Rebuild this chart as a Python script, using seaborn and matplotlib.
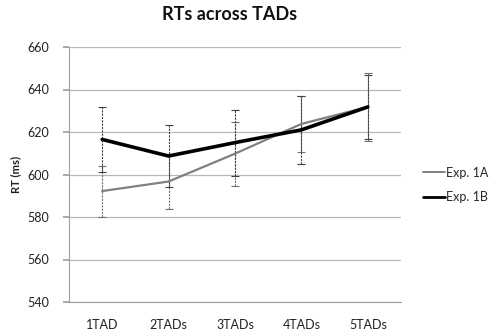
import matplotlib
matplotlib.use("Agg")
import matplotlib.pyplot as plt
import seaborn as sns
import pandas as pd
import numpy as np
from matplotlib.lines import Line2D

categories = ["1TAD", "2TADs", "3TADs", "4TADs", "5TADs"]
exp_1a = [592.2, 596.7, 609.8, 623.8, 631.8]
exp_1a_err = [12.0, 13.0, 15.0, 13.0, 16.0]
exp_1b = [616.5, 608.7, 615.0, 621.0, 631.8]
exp_1b_err = [15.5, 14.5, 15.5, 16.0, 15.0]
series_names = ["Exp. 1A", "Exp. 1B"]

sns.set_theme(style="white")
plt.rcParams["font.family"] = ["Lato", "DejaVu Sans"]

df = pd.DataFrame({
    "cond": categories * 2,
    "rt": exp_1a + exp_1b,
    "exp": [series_names[0]] * 5 + [series_names[1]] * 5,
})

fig = plt.figure(figsize=(5.03, 3.34), dpi=100)
ax = fig.add_axes([69 / 503, 1 - 302 / 334, (401 - 69) / 503, (302 - 47) / 334])

palette = {series_names[0]: "#808080", series_names[1]: "#000000"}
sns.lineplot(data=df, x="cond", y="rt", hue="exp", palette=palette, sort=False,
             ax=ax, legend=False, linewidth=1.6, zorder=3)
for line, lw in zip(ax.get_lines(), [1.6, 2.6]):
    line.set_linewidth(lw)

xs = np.arange(len(categories))
for vals, errs, col in [(exp_1a, exp_1a_err, "#707070"), (exp_1b, exp_1b_err, "#404040")]:
    eb = ax.errorbar(xs, vals, yerr=errs, fmt="none", ecolor=col, elinewidth=0.8,
                     capsize=3, capthick=0.8, zorder=2)
    for lc in eb[2]:
        lc.set_linestyle((0, (2, 1)))

ax.set_xlim(-0.5, 4.5)
ax.set_ylim(540, 660)
ax.set_yticks(np.arange(540, 661, 20))
ax.yaxis.grid(True, color="#b8b8b8", linewidth=0.9)
ax.xaxis.grid(False)
for s in ["top", "right"]:
    ax.spines[s].set_visible(False)
ax.spines["left"].set_color("#a0a0a0")
ax.spines["bottom"].set_color("#a0a0a0")
ax.spines["left"].set_linewidth(0.8)
ax.spines["bottom"].set_linewidth(0.8)
ax.tick_params(axis="y", left=True, length=4, color="#a0a0a0", labelsize=9, pad=10, labelcolor="#222222")
ax.tick_params(axis="x", bottom=False, labelsize=9, pad=6, labelcolor="#222222")
ax.set_xlabel("")
ax.set_ylabel("RT (ms)", fontsize=8, fontweight="bold", labelpad=5, color="#222222")

fig.text(230 / 503, 1 - 14 / 334, "RTs across TADs", ha="center", va="center",
         fontsize=13, fontweight="bold", color="#111111")

handles = [Line2D([], [], color="#808080", lw=1.4), Line2D([], [], color="#000000", lw=2.0)]
fig.legend(handles, series_names, loc="center left", bbox_to_anchor=(414 / 503, 1 - 185 / 334),
           frameon=False, fontsize=9, handlelength=1.8, handletextpad=0.1, labelspacing=1.0,
           borderpad=0.2)

fig.savefig("out.png", dpi=100)
